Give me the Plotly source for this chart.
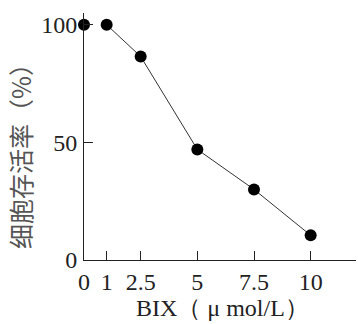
import plotly.graph_objects as go

conc = [0, 1, 2.5, 5, 7.5, 10]
survival = [100, 100, 86.5, 47, 30, 10.5]
x_ticks = [0, 1, 2.5, 5, 7.5, 10]
x_tick_labels = ["0", "1", "2.5", "5", "7.5", "10"]
y_ticks = [0, 50, 100, 105]
y_tick_labels = ["0", "50", "100", ""]

fig = go.Figure()
fig.add_trace(go.Scatter(x=conc[1:], y=survival[1:], mode="lines+markers",
                         line=dict(color="#333333", width=1),
                         marker=dict(color="black", size=12),
                         cliponaxis=False, showlegend=False))
fig.add_trace(go.Scatter(x=conc[:1], y=survival[:1], mode="markers",
                         marker=dict(color="black", size=12),
                         cliponaxis=False, showlegend=False))

font_serif = "Liberation Serif, Times New Roman, serif"
fig.update_layout(
    width=358, height=324,
    margin=dict(l=84, r=2, t=13, b=64),
    paper_bgcolor="white", plot_bgcolor="white",
    font=dict(family=font_serif, size=24, color="#222222"),
    xaxis=dict(range=[0, 12], tickvals=x_ticks, ticktext=x_tick_labels,
               ticks="inside", ticklen=9, tickcolor="#222222", tickwidth=1,
               showline=True, linecolor="#222222", linewidth=1,
               showgrid=False, zeroline=False, automargin=False),
    yaxis=dict(range=[0, 105], tickvals=y_ticks, ticktext=y_tick_labels,
               ticks="inside", ticklen=9, tickcolor="#222222", tickwidth=1,
               showline=True, linecolor="#222222", linewidth=1,
               showgrid=False, zeroline=False, ticklabelstandoff=1,
               automargin=False),
    annotations=[
        dict(text="BIX（ μ mol/L）", xref="paper", yref="paper",
             x=(222 - 84) / 272, y=-48 / 247, xanchor="center", yanchor="middle",
             showarrow=False, font=dict(family=font_serif, size=24, color="#222222")),
        dict(text="细胞存活率（%）", xref="paper", yref="paper",
             x=-64 / 272, y=(260 - 150) / 247, xanchor="center", yanchor="middle",
             textangle=-90, showarrow=False,
             font=dict(family="Noto Sans CJK SC", size=25, color="#555555")),
    ],
)
fig.write_html("out.html", config={"displayModeBar": False},
               post_script="document.body.style.margin='0px';")
